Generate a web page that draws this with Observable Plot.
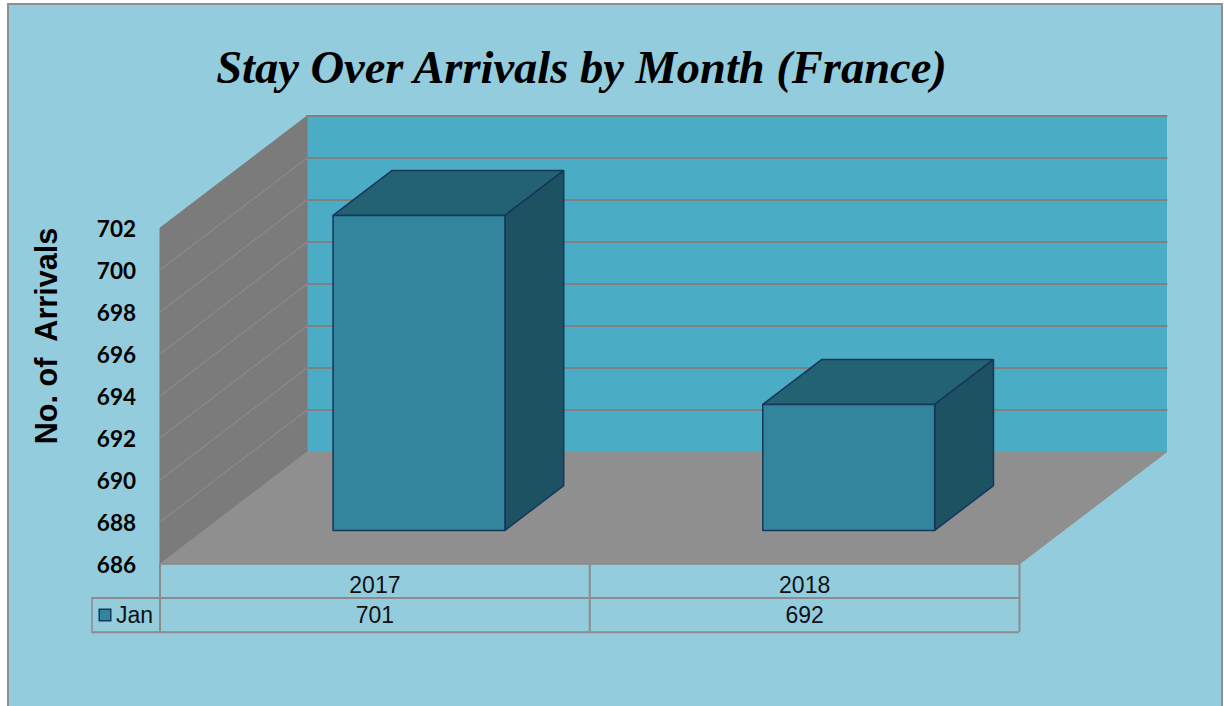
<!DOCTYPE html>
<html>
<head>
<meta charset="utf-8">
<script src="https://cdn.jsdelivr.net/npm/d3@7"></script>
<script src="https://cdn.jsdelivr.net/npm/@observablehq/plot@0.6"></script>
<style>
html,body{margin:0;padding:0;background:#fff;overflow:hidden}
#panel{position:absolute;left:7px;top:3px;width:1216px;height:703px;background:#92CCDD;border:2px solid #8f8f8f;border-bottom:none;box-sizing:border-box}
#chart{position:absolute;left:0;top:0}
</style>
</head>
<body>
<div id="panel"></div>
<div id="chart"></div>
<script>
const titleText = "Stay Over Arrivals by Month (France)";
const yTitle = "No. of  Arrivals";
const seriesName = "Jan";
const years = ["2017", "2018"];
const jan = [701, 692];
const yTicks = [686, 688, 690, 692, 694, 696, 698, 700, 702];

const yMin = 686, yMax = 702;
// oblique projection: depth 0 = front of floor, depth 1 = back wall
const depthX = 147 / 429.75;
const depthY = 112 / 21;
const P = (c, v, d) => ({x: c + d * depthX, y: v + d * depthY});
const face = (corners, fill, stroke, strokeWidth) => {
  const pts = corners.map(([c, v, d]) => P(c, v, d));
  pts.push(pts[0]);
  return Plot.line(pts, {x: "x", y: "y", fill, stroke: stroke ?? fill, strokeWidth: strokeWidth ?? 1, curve: "linear", strokeLinejoin: "miter"});
};
const N = years.length;
const gridBack = yTicks.slice(1).map(v => [P(0, v, 1), P(N, v, 1)]);
const gridSide = yTicks.slice(1, -1).map(v => [P(0, v, 0), P(0, v, 1)]);

const d0 = 0.3, d1 = 0.7, halfW = 0.2;
const barMarks = jan.flatMap((v, i) => {
  const a = i + 0.5 - halfW, b = i + 0.5 + halfW;
  return [
    face([[a, v, d0], [b, v, d0], [b, v, d1], [a, v, d1]], "#236272", "#17365D", 1.5),
    face([[b, yMin, d0], [b, v, d0], [b, v, d1], [b, yMin, d1]], "#1D5263", "#17365D", 1.5),
    face([[a, yMin, d0], [b, yMin, d0], [b, v, d0], [a, v, d0]], "#31859C", "#17365D", 1.5)
  ];
});

const rowH = 34 / 21;
const row1 = yMin - rowH, row2 = yMin - 2 * rowH - 0.01;
const legendLeft = -68 / 429.75;
const tableColor = "#8c8c8c";
const sans = "'Liberation Sans', Arial, sans-serif";
const left = 159.5;

const chart = Plot.plot({
  width: 1224,
  height: 706,
  marginLeft: left,
  marginTop: 0,
  marginRight: 0,
  marginBottom: 0,
  style: {background: "transparent"},
  x: {domain: [0, N], range: [left, 1019], axis: null},
  y: {domain: [yMin, yMax], range: [563.5, 227.5], axis: null},
  marks: [
    // walls and floor
    face([[0, yMin, 1], [N, yMin, 1], [N, yMax, 1], [0, yMax, 1]], "#4BACC6"),
    face([[0, yMin, 0], [0, yMin, 1], [0, yMax, 1], [0, yMax, 0]], "#7B7B7B"),
    face([[0, yMin, 0], [N, yMin, 0], [N, yMin, 1], [0, yMin, 1]], "#8F8F8F"),
    ...gridBack.map(l => Plot.line(l, {x: "x", y: "y", stroke: "#808080", strokeWidth: 2.2})),
    ...gridSide.map(l => Plot.line(l, {x: "x", y: "y", stroke: "#8A8A8A", strokeWidth: 1.2})),
    ...barMarks,
    // data table
    Plot.ruleY([yMin], {x1: 0, x2: N, stroke: tableColor, strokeWidth: 1.5}),
    Plot.ruleY([row1, row2], {x1: legendLeft, x2: N, stroke: tableColor, strokeWidth: 2}),
    Plot.ruleX([0, 1, 2], {y1: yMin, y2: row2, stroke: tableColor, strokeWidth: 2}),
    Plot.ruleX([legendLeft], {y1: row1, y2: row2, stroke: tableColor, strokeWidth: 1.5}),
    Plot.text(years, {x: (d, i) => i + 0.5, y: yMin - rowH / 2, text: d => d, fontSize: 23, fontFamily: sans, fill: "#111", dy: 5}),
    Plot.text(jan, {x: (d, i) => i + 0.5, y: yMin - rowH * 1.5, text: d => String(d), fontSize: 23, fontFamily: sans, fill: "#111", dy: 1}),
    Plot.dot([seriesName], {x: legendLeft, y: yMin - rowH * 1.5, dx: 13, symbol: "square", r: 6.5, fill: "#31859C", stroke: "#17365D", strokeWidth: 1.5}),
    Plot.text([seriesName], {x: legendLeft, y: yMin - rowH * 1.5, dx: 24, dy: 1, text: d => d, textAnchor: "start", fontSize: 23, fontFamily: sans, fill: "#111"}),
    // value axis
    Plot.axisY({ticks: yTicks, tickSize: 0, tickPadding: 24, dy: 1.5, tickFormat: d => String(d), fontSize: 22.5, fontWeight: "bold", fontFamily: "Lato, sans-serif", label: null, color: "#000"}),
    Plot.text([yTitle], {frameAnchor: "top-left", dx: 47 - left, dy: 335.5, rotate: -90, text: d => d, textAnchor: "middle", lineAnchor: "middle", fontSize: 30.6, fontWeight: "bold", fontFamily: sans, fill: "#000"}),
    Plot.text([titleText], {frameAnchor: "top-left", dx: 581 - left, dy: 68, text: d => d, textAnchor: "middle", lineAnchor: "middle", fontSize: 46.5, fontWeight: "bold", fontStyle: "italic", fontFamily: "'Liberation Serif', serif", fill: "#000"})
  ]
});
document.getElementById("chart").append(chart);
</script>
</body>
</html>
